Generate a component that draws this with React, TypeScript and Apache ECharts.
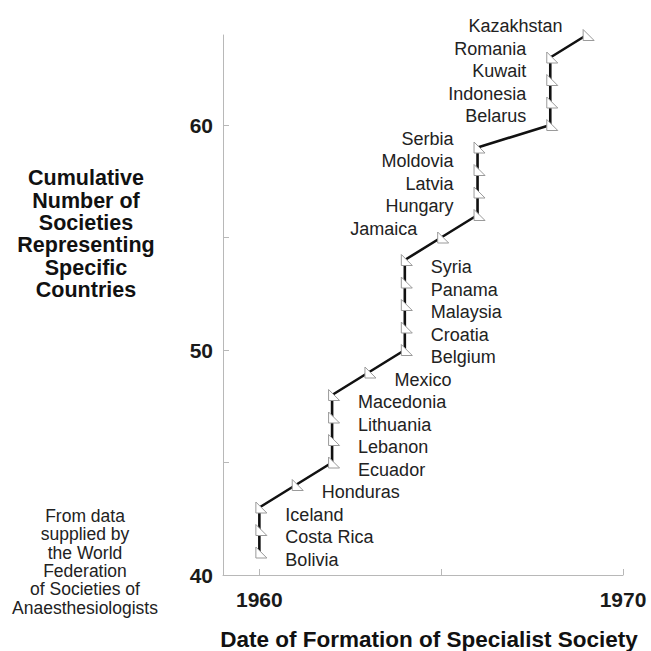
import React, { useEffect, useRef } from "react";
import * as echarts from "echarts";

const countries = [
  "Bolivia", "Costa Rica", "Iceland", "Honduras", "Ecuador", "Lebanon", "Lithuania", "Macedonia",
  "Mexico", "Belgium", "Croatia", "Malaysia", "Panama", "Syria", "Jamaica", "Hungary", "Latvia",
  "Moldovia", "Serbia", "Belarus", "Indonesia", "Kuwait", "Romania", "Kazakhstan",
];
const years = [
  1960, 1960, 1960, 1961, 1962, 1962, 1962, 1962,
  1963, 1964, 1964, 1964, 1964, 1964, 1965, 1966, 1966,
  1966, 1966, 1968, 1968, 1968, 1968, 1969,
];
const cumulative = [
  41, 42, 43, 44, 45, 46, 47, 48,
  49, 50, 51, 52, 53, 54, 55, 56, 57,
  58, 59, 60, 61, 62, 63, 64,
];
const leftLabelled = [
  "Jamaica", "Hungary", "Latvia", "Moldovia", "Serbia",
  "Belarus", "Indonesia", "Kuwait", "Romania", "Kazakhstan",
];
const xTickValues = [1960, 1965, 1970];
const xLabelValues = [1960, 1970];
const yTickValues = [40, 45, 50, 55, 60];
const yLabelValues = [40, 50, 60];

const yTitle = "Cumulative\nNumber of\nSocieties\nRepresenting\nSpecific\nCountries";
const sourceNote = "From data\nsupplied by\nthe World\nFederation\nof Societies of\nAnaesthesiologists";
const xTitle = "Date of Formation of Specialist Society";

const FONT = "Liberation Sans, Arial, Helvetica, sans-serif";

export default function App() {
  const ref = useRef<HTMLDivElement>(null);
  useEffect(() => {
    document.body.style.margin = "0";
    const chart = echarts.init(ref.current!, null, { renderer: "svg" });
    const data = countries.map((name, i) => {
      const left = leftLabelled.includes(name);
      return {
        name,
        value: [years[i], cumulative[i]],
        label: left
          ? { position: "left", distance: 20, offset: [0, -9] }
          : { position: "right", distance: 18, offset: [0, 7] },
      };
    });
    chart.setOption({
      animation: false,
      backgroundColor: "#ffffff",
      grid: { left: 223, right: 28, top: 35, bottom: 76 },
      xAxis: {
        type: "value",
        min: 1959,
        max: 1970,
        splitLine: { show: false },
        axisLine: { show: true, lineStyle: { color: "#b8b8b8", width: 1 } },
        axisTick: {
          show: true,
          inside: true,
          length: 6,
          customValues: xTickValues,
          lineStyle: { color: "#b8b8b8" },
        },
        axisLabel: {
          customValues: xLabelValues,
          formatter: (v: number) => String(v),
          fontFamily: FONT,
          fontWeight: "bold",
          fontSize: 21,
          color: "#1a1a1a",
          margin: 14,
        },
      },
      yAxis: {
        type: "value",
        min: 40,
        max: 64,
        splitLine: { show: false },
        axisLine: { show: true, lineStyle: { color: "#b8b8b8", width: 1 } },
        axisTick: {
          show: true,
          inside: true,
          length: 6,
          customValues: yTickValues,
          lineStyle: { color: "#b8b8b8" },
        },
        axisLabel: {
          customValues: yLabelValues,
          formatter: (v: number) => String(v),
          fontFamily: FONT,
          fontWeight: "bold",
          fontSize: 21,
          color: "#1a1a1a",
          margin: 10,
        },
      },
      series: [
        {
          type: "line",
          data,
          clip: false,
          symbol: "path://M0,0 L0,12 L12,12 Z",
          symbolSize: [11, 11],
          symbolOffset: [2, 0],
          showAllSymbol: true,
          lineStyle: { color: "#111111", width: 2.6 },
          itemStyle: { color: "#ffffff", borderColor: "#9a9a9a", borderWidth: 1 },
          label: {
            show: true,
            formatter: (p: any) => p.name,
            fontFamily: FONT,
            fontSize: 18,
            color: "#222222",
          },
          z: 3,
        },
      ],
      graphic: [
        {
          type: "text",
          x: 86,
          y: 167,
          style: {
            text: yTitle,
            fontFamily: FONT,
            fontWeight: "bold",
            fontSize: 21.5,
            lineHeight: 22.4,
            align: "center",
            verticalAlign: "top",
            fill: "#111111",
          },
        },
        {
          type: "text",
          x: 85,
          y: 507,
          style: {
            text: sourceNote,
            fontFamily: FONT,
            fontSize: 17.5,
            lineHeight: 18.3,
            align: "center",
            verticalAlign: "top",
            fill: "#222222",
          },
        },
        {
          type: "text",
          x: 429,
          y: 639,
          style: {
            text: xTitle,
            fontFamily: FONT,
            fontWeight: "bold",
            fontSize: 22.5,
            align: "center",
            verticalAlign: "middle",
            fill: "#111111",
          },
        },
      ],
    });
    return () => chart.dispose();
  }, []);
  return <div ref={ref} style={{ position: "absolute", left: 0, top: 0, width: 651, height: 651 }} />;
}
